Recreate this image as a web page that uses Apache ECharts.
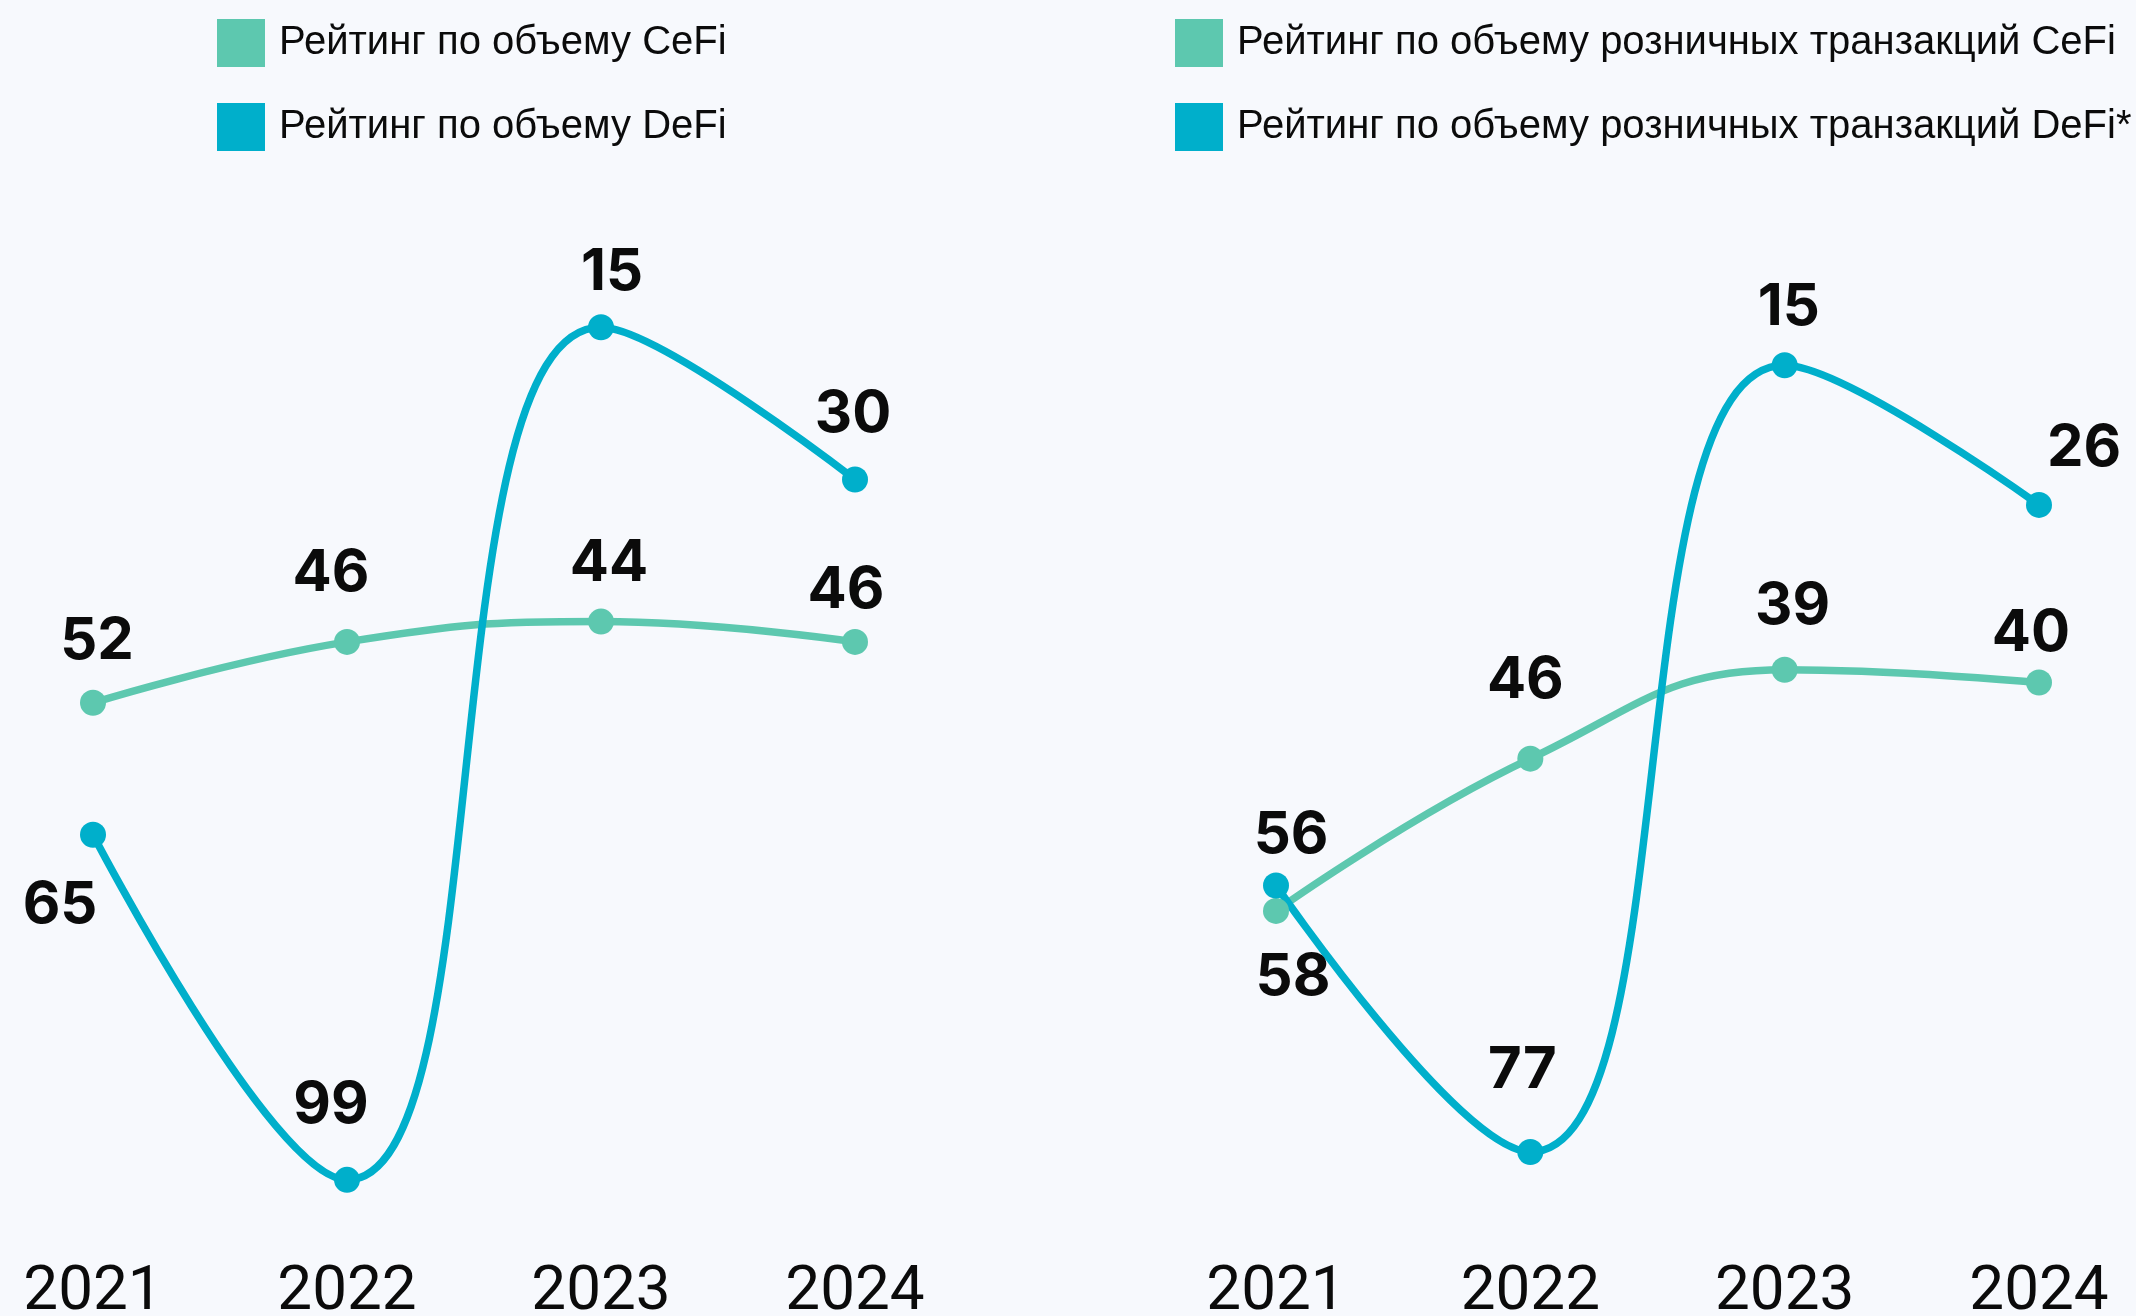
<!DOCTYPE html>
<html>
<head>
<meta charset="utf-8">
<script src="https://cdn.jsdelivr.net/npm/echarts@6/dist/echarts.min.js"></script>
<style>
  html, body { margin: 0; padding: 0; background: #F7F9FD; }
  #chart { width: 2136px; height: 1316px; }
</style>
</head>
<body>
<div id="chart"></div>
<script>
// Years on the horizontal axis
const years = ['2021', '2022', '2023', '2024'];

// Rank by total volume (left panel)
const volumeCeFi = [52, 46, 44, 46];
const volumeDeFi = [65, 99, 15, 30];

// Rank by retail transaction volume (right panel)
const retailCeFi = [58, 46, 39, 40];
const retailDeFi = [56, 77, 15, 26];

// Series names shown in the legends
const nameVolumeCeFi = 'Рейтинг по объему CeFi';
const nameVolumeDeFi = 'Рейтинг по объему DeFi';
const nameRetailCeFi = 'Рейтинг по объему розничных транзакций CeFi';
const nameRetailDeFi = 'Рейтинг по объему розничных транзакций DeFi*';

// Label placement relative to each point (centre of label minus centre of point)
const offVolumeCeFi = [[4, -61], [-16, -68], [8, -58], [-9, -51]];
const offVolumeDeFi = [[-33, 71], [-16, -74], [11, -55], [-2, -65]];
const offRetailCeFi = [[17, 67], [-5, -78], [8, -63], [-8, -49]];
const offRetailDeFi = [[15, -50], [-8, -81], [4, -58], [45, -56]];

const GREEN = '#5DC8AF';
const BLUE = '#00AFCB';
const INK = '#0B0B0B';

function points(values, offsets) {
  return values.map((v, i) => ({ value: v, label: { offset: offsets[i] } }));
}

function lineSeries(name, color, idx, values, offsets) {
  return {
    name: name,
    type: 'line',
    xAxisIndex: idx,
    yAxisIndex: idx,
    smooth: 0.45,
    symbol: 'circle',
    symbolSize: 26,
    lineStyle: { width: 7.5, color: color },
    itemStyle: { color: color },
    label: {
      show: true,
      position: 'inside',
      formatter: '{c}',
      fontFamily: 'Inter, Roboto, sans-serif',
      fontWeight: 700,
      fontSize: 58,
      color: INK
    },
    emphasis: { disabled: true },
    data: points(values, offsets)
  };
}

function xAxis(idx) {
  return {
    type: 'category',
    gridIndex: idx,
    data: years,
    boundaryGap: false,
    axisLine: { show: false },
    axisTick: { show: false },
    splitLine: { show: false },
    axisLabel: {
      margin: 72,
      fontFamily: 'Roboto, "Liberation Sans", sans-serif',
      fontWeight: 400,
      fontSize: 62,
      color: INK
    }
  };
}

function yAxis(idx, max) {
  return {
    type: 'value',
    gridIndex: idx,
    inverse: true,
    min: 0,
    max: max,
    show: false,
    splitLine: { show: false }
  };
}

function legend(left, names) {
  return {
    left: left,
    top: 14,
    orient: 'vertical',
    icon: 'rect',
    itemWidth: 48,
    itemHeight: 48,
    itemGap: 36,
    selectedMode: false,
    textStyle: {
      fontFamily: '"Liberation Sans", Arial, sans-serif',
      fontSize: 40,
      color: INK,
      padding: [0, 0, 0, 9]
    },
    data: names
  };
}

const chart = echarts.init(document.getElementById('chart'), null, { renderer: 'canvas' });
chart.setOption({
  backgroundColor: '#F7F9FD',
  animation: false,
  legend: [
    legend(212, [nameVolumeCeFi, nameVolumeDeFi]),
    legend(1170, [nameRetailCeFi, nameRetailDeFi])
  ],
  grid: [
    { left: 93, width: 762, top: 175, height: 1015, outerBoundsMode: 'none' },
    { left: 1276, width: 763, top: 175, height: 1015, outerBoundsMode: 'none' }
  ],
  xAxis: [xAxis(0), xAxis(1)],
  yAxis: [yAxis(0, 100), yAxis(1, 80)],
  series: [
    lineSeries(nameVolumeCeFi, GREEN, 0, volumeCeFi, offVolumeCeFi),
    lineSeries(nameVolumeDeFi, BLUE, 0, volumeDeFi, offVolumeDeFi),
    lineSeries(nameRetailCeFi, GREEN, 1, retailCeFi, offRetailCeFi),
    lineSeries(nameRetailDeFi, BLUE, 1, retailDeFi, offRetailDeFi)
  ]
});
</script>
</body>
</html>
